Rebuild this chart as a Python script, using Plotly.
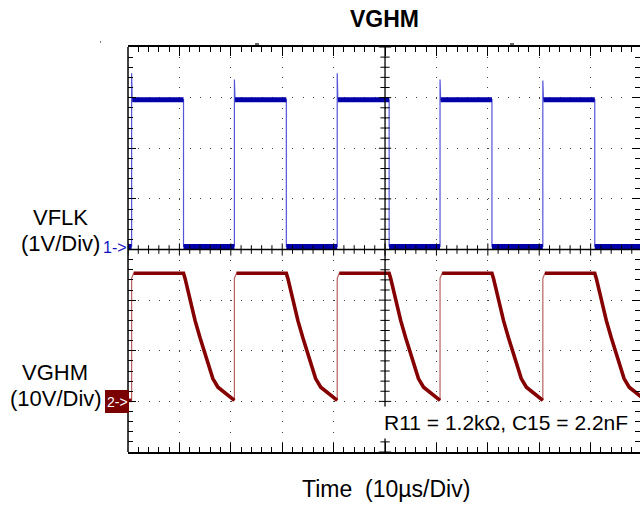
import plotly.graph_objects as go

# Scope capture: time in µs (10 µs/div), channel voltages in volts.
RISE_TIMES = [0.7, 20.7, 40.7, 60.7, 80.7]        # VFLK rising edges
FALL_TIMES = [10.8, 30.8, 50.8, 70.8, 90.8]       # VFLK falling edges
VFLK_HIGH = 2.96
VFLK_LOW = 0.06
VFLK_OVERSHOOT = [3.48, 3.36, 3.48, 3.36, 3.34]   # spike on each rising edge

VGHM_HIGH = 25.3
VGHM_RISE_TOP = 24.3      # where the fast rise stops before settling
VGHM_START = 0.2          # level before the first edge
# VGHM discharge after each VFLK falling edge (µs after the edge, volts)
DECAY_DT = [0.0, 0.3, 1.26, 2.24, 3.2, 4.2, 4.8, 5.7, 6.7, 8.1, 9.3, 9.9]
DECAY_V = [25.3, 24.3, 20.0, 16.0, 12.6, 9.5, 7.1, 4.5, 2.8, 1.6, 0.6, 0.2]

T_END = 99.6              # visible part of the 100 µs screen
CH1_SCALE, CH1_POS = 1.0, 0.0     # V/div, ground marker (div)
CH2_SCALE, CH2_POS = 10.0, -3.0

BLUE = "#0000a8"
BLUE_EDGE = "#5555d8"
RED = "#850000"
RED_EDGE = "#b86060"
FONT = "Liberation Sans, Arial, sans-serif"

FW, FH = 640, 505
L, T, W, H = 128, 47, 512, 405   # plot area in pixels (page body margin removed)


def px(x):
    """pixel x -> paper fraction"""
    return (x - L) / W


def py(y):
    """pixel y -> paper fraction"""
    return (T + H - y) / H


def ch1(v):
    return None if v is None else v / CH1_SCALE + CH1_POS


def ch2(v):
    return None if v is None else v / CH2_SCALE + CH2_POS


# ---- VFLK ----
b_t, b_v = [0.0], [VFLK_LOW]
for rise, fall, over in zip(RISE_TIMES, FALL_TIMES, VFLK_OVERSHOOT):
    b_t += [rise, rise, rise + 0.12, fall, fall]
    b_v += [VFLK_LOW, over, VFLK_HIGH, VFLK_HIGH, VFLK_LOW]
b_t.append(T_END)
b_v.append(VFLK_LOW)

bt_t, bt_v = [0.0, RISE_TIMES[0], None], [VFLK_LOW, VFLK_LOW, None]
for i, (rise, fall) in enumerate(zip(RISE_TIMES, FALL_TIMES)):
    nxt = RISE_TIMES[i + 1] if i + 1 < len(RISE_TIMES) else T_END
    bt_t += [rise + 0.12, fall, None, fall, nxt, None]
    bt_v += [VFLK_HIGH, VFLK_HIGH, None, VFLK_LOW, VFLK_LOW, None]

# ---- VGHM ----
r_t, r_v = [0.0, RISE_TIMES[0]], [VGHM_START, VGHM_START]
rt_t, rt_v = [0.0, RISE_TIMES[0], None], [VGHM_START, VGHM_START, None]
for i, (rise, fall) in enumerate(zip(RISE_TIMES, FALL_TIMES)):
    r_t += [rise, rise + 0.4, fall]
    r_v += [VGHM_RISE_TOP, VGHM_HIGH, VGHM_HIGH]
    rt_t += [rise + 0.4, fall]
    rt_v += [VGHM_HIGH, VGHM_HIGH]
    for dt, v in zip(DECAY_DT, DECAY_V):
        r_t.append(fall + dt)
        r_v.append(v)
        rt_t.append(fall + dt)
        rt_v.append(v)
    rt_t.append(None)
    rt_v.append(None)

fig = go.Figure()
fig.add_trace(go.Scatter(x=r_t, y=[ch2(v) for v in r_v], mode="lines",
                         line=dict(color=RED_EDGE, width=1.2), hoverinfo="skip"))
fig.add_trace(go.Scatter(x=rt_t, y=[ch2(v) for v in rt_v], mode="lines",
                         line=dict(color=RED, width=3.6), hoverinfo="skip"))
fig.add_trace(go.Scatter(x=b_t, y=[ch1(v) for v in b_v], mode="lines",
                         line=dict(color=BLUE_EDGE, width=1.2), hoverinfo="skip"))
fig.add_trace(go.Scatter(x=bt_t, y=[ch1(v) for v in bt_v], mode="lines",
                         line=dict(color=BLUE, width=5), hoverinfo="skip"))

# left border (the right one is off screen) and the centre crosshair with its ticks
shapes = [
    dict(type="line", xref="paper", yref="paper", x0=0, x1=0, y0=0, y1=1,
         line=dict(color="black", width=1.5)),
    dict(type="line", xref="x", yref="y", x0=50, x1=50, y0=-4, y1=4,
         line=dict(color="black", width=1.3)),
    dict(type="line", xref="paper", yref="y", x0=0, x1=1, y0=0, y1=0,
         line=dict(color="black", width=1.3)),
]
for k in range(50):
    h = 0.12 if k % 5 == 0 else 0.085
    shapes.append(dict(type="line", xref="x", yref="y", x0=2 * k, x1=2 * k,
                       y0=-h, y1=h, line=dict(color="black", width=1)))
for k in range(41):
    w = 1.2 if k % 5 == 0 else 0.9
    yy = -4 + 0.2 * k
    shapes.append(dict(type="line", xref="x", yref="y", x0=50 - w, x1=50 + w,
                       y0=yy, y1=yy, line=dict(color="black", width=1)))
# channel 2 marker box
shapes.append(dict(type="rect", xref="paper", yref="paper",
                   x0=px(105), x1=px(129), y0=py(413), y1=py(390),
                   fillcolor="#7a0000", line=dict(width=0)))
# stray trigger marks above the screen
for x0, x1 in [(255, 259), (510, 514)]:
    shapes.append(dict(type="line", xref="paper", yref="paper",
                       x0=px(x0), x1=px(x1), y0=py(44), y1=py(44),
                       line=dict(color="#333", width=1.5)))
shapes.append(dict(type="line", xref="paper", yref="paper",
                   x0=px(100), x1=px(101), y0=py(42), y1=py(42),
                   line=dict(color="#555", width=1.5)))

annotations = [
    dict(text="<b>VGHM</b>", x=px(384), y=py(19.5), font=dict(size=23)),
    dict(text="VFLK", x=px(60), y=py(217), font=dict(size=22)),
    dict(text="(1V/Div)", x=px(60), y=py(243), font=dict(size=22)),
    dict(text="VGHM", x=px(55), y=py(372), font=dict(size=22)),
    dict(text="(10V/Div)", x=px(55.5), y=py(398), font=dict(size=22)),
    dict(text="1->", x=px(114.5), y=py(247), font=dict(size=16, color="#1010c0")),
    dict(text="2->", x=px(117), y=py(401.5), font=dict(size=14, color="white")),
    dict(text="R11 = 1.2kΩ, C15 = 2.2nF", x=px(505.5), y=py(422.5),
         font=dict(size=21), bgcolor="white", borderpad=4),
    dict(text="Time\u00a0\u00a0(10µs/Div)", x=px(386), y=py(489), font=dict(size=23)),
]
for a in annotations:
    a.update(xref="paper", yref="paper", showarrow=False,
             xanchor="center", yanchor="middle")

fig.update_layout(
    width=FW, height=FH,
    margin=dict(l=L, r=FW - L - W, t=T, b=FH - T - H, pad=0),
    paper_bgcolor="white", plot_bgcolor="white",
    font=dict(family=FONT, color="black"),
    showlegend=False,
    shapes=shapes,
    annotations=annotations,
    xaxis=dict(
        range=[0, T_END], tick0=0, dtick=10, showticklabels=False,
        showgrid=True, gridcolor="#444", gridwidth=1, griddash="1px,9.12px",
        zeroline=False, showline=True, linecolor="black", linewidth=1.5,
        mirror="ticks", ticks="inside", ticklen=9, tickcolor="black",
        minor=dict(dtick=2, ticks="inside", ticklen=5, tickcolor="black", showgrid=False),
    ),
    yaxis=dict(
        range=[-4, 4], tick0=0, dtick=1, showticklabels=False,
        showgrid=True, gridcolor="#444", gridwidth=1, griddash="1px,9.28px",
        zeroline=False, showline=False,
        mirror="ticks", ticks="inside", ticklen=8, tickcolor="black",
        minor=dict(dtick=0.2, ticks="inside", ticklen=5, tickcolor="black", showgrid=False),
    ),
)

# the page body has an 8px default margin; drop it so the figure fills the window
fig.write_html("out.html", config={"displayModeBar": False},
               post_script="document.body.style.margin = '0';")
